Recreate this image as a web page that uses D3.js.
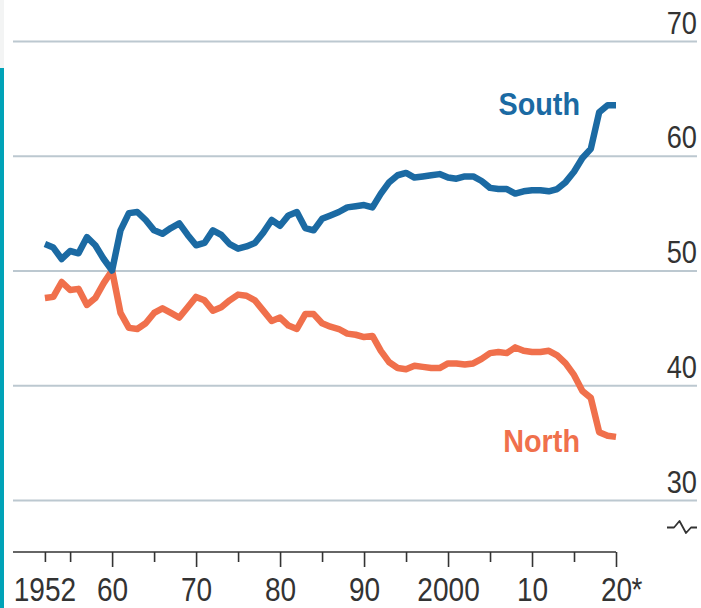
<!DOCTYPE html>
<html lang="en">
<head>
    <meta charset="UTF-8">
    <title>South vs North</title>
    <style>
        body {
            margin: 0;
            padding: 0;
            background-color: #ffffff;
            overflow: hidden;
        }
        .chart text {
            font-family: 'Liberation Sans', Arial, sans-serif;
            fill: #333333;
        }
        .grid line {
            stroke: #bcc8d0;
            stroke-width: 2px;
        }
        .series {
            fill: none;
            stroke-width: 6.5px;
            stroke-linejoin: round;
            stroke-linecap: butt;
        }
    </style>
</head>
<body>
    <div class="chart"></div>

    <script src="https://d3js.org/d3.v7.min.js"></script>
    <script>
        const width = 701;
        const height = 608;
        const squeeze = 0.85; // narrow the font to look condensed

        // data, 1952 to 2020
        const years = d3.range(1952, 2021);
        const south = [
            52.3, 52.0, 51.0, 51.7, 51.5, 52.9, 52.2, 51.0, 50.0,
            53.5, 55.0, 55.1, 54.4, 53.5, 53.2, 53.7, 54.1, 53.1, 52.2,
            52.4, 53.5, 53.1, 52.3, 51.9, 52.1, 52.4, 53.3, 54.4, 53.9,
            54.8, 55.1, 53.7, 53.5, 54.5, 54.8, 55.1, 55.5, 55.6, 55.7,
            55.5, 56.7, 57.7, 58.3, 58.5, 58.1, 58.2, 58.3, 58.4, 58.1,
            58.0, 58.2, 58.2, 57.8, 57.2, 57.1, 57.1, 56.7, 56.9, 57.0,
            57.0, 56.9, 57.1, 57.7, 58.6, 59.8, 60.6, 63.8, 64.4, 64.4
        ];
        const north = [
            47.6, 47.7, 49.0, 48.3, 48.4, 47.0, 47.6, 48.9, 50.0,
            46.3, 45.0, 44.9, 45.4, 46.3, 46.7, 46.3, 45.9, 46.8, 47.7,
            47.4, 46.5, 46.8, 47.4, 47.9, 47.8, 47.4, 46.5, 45.6, 45.9,
            45.2, 44.9, 46.2, 46.2, 45.4, 45.1, 44.9, 44.5, 44.4, 44.2,
            44.3, 43.0, 42.0, 41.5, 41.4, 41.7, 41.6, 41.5, 41.5, 41.9,
            41.9, 41.8, 41.9, 42.3, 42.8, 42.9, 42.8, 43.3, 43.0, 42.9,
            42.9, 43.0, 42.6, 41.9, 40.9, 39.5, 38.9, 35.9, 35.6, 35.5
        ];
        const yTicks = [30, 40, 50, 60, 70];
        const majorYears = [1960, 1970, 1980, 1990, 2000, 2010, 2020];
        const minorYears = [1952, 1955, 1965, 1975, 1985, 1995, 2005, 2015];
        const yearLabels = ['60', '70', '80', '90', '2000', '10', '20'];

        const svg = d3.select('.chart')
            .append('svg')
            .attr('width', width)
            .attr('height', height);

        // teal strip on the left edge
        svg.append('rect')
            .attr('x', 0).attr('y', 0)
            .attr('width', 4).attr('height', 68)
            .attr('fill', '#f3f4f4');
        svg.append('rect')
            .attr('x', 0).attr('y', 68)
            .attr('width', 4).attr('height', height - 68)
            .attr('fill', '#00a3b8');

        const x = d3.scaleLinear().domain([1948.2, 2020]).range([13, 616]);
        const y = d3.scaleLinear().domain([30, 70]).range([500, 41]);

        // horizontal grid with labels on the right
        const grid = svg.append('g')
            .attr('class', 'grid')
            .attr('transform', 'translate(697,0)')
            .call(d3.axisLeft(y).tickValues(yTicks).tickSize(684));
        grid.select('.domain').remove();
        grid.selectAll('text')
            .attr('x', 0)
            .attr('y', -8)
            .attr('dy', 0)
            .attr('text-anchor', 'end')
            .attr('transform', `scale(${squeeze},1)`)
            .style('font-size', '32px');

        // broken-axis mark under 30
        svg.append('path')
            .attr('d', 'M667,527.5 L674,527.5 L679.5,521 L686,533 L691,527.5 L697,527.5')
            .attr('fill', 'none')
            .attr('stroke', '#333')
            .attr('stroke-width', 1.8)
            .attr('stroke-linejoin', 'round');

        // x axis: minor ticks then major ticks with labels
        const axisY = 552;
        const labelY = 49;
        const minor = svg.append('g')
            .attr('transform', `translate(0,${axisY})`)
            .call(d3.axisBottom(x).tickValues(minorYears).tickSize(10).tickSizeOuter(0).tickFormat(''));
        minor.select('.domain').remove();

        const major = svg.append('g')
            .attr('transform', `translate(0,${axisY})`)
            .call(d3.axisBottom(x).tickValues(majorYears).tickSize(15).tickSizeOuter(0)
                .tickFormat((d, i) => yearLabels[i]));

        svg.selectAll('.tick line').attr('stroke', '#333').attr('stroke-width', 1.6);
        major.select('.domain').attr('stroke', '#333').attr('stroke-width', 1.6)
            .attr('d', `M${x.range()[0]},0H${x.range()[1]}`);
        major.selectAll('text')
            .attr('y', labelY)
            .attr('dy', 0)
            .attr('transform', `scale(${squeeze},1)`)
            .style('font-size', '33px');

        svg.append('text')
            .attr('transform', `translate(${x(1952)},${axisY + labelY}) scale(${squeeze},1)`)
            .attr('text-anchor', 'middle')
            .style('font-size', '33px')
            .text('1952');
        svg.append('text')
            .attr('transform', `translate(${x(2020) + 15.5},${axisY + labelY}) scale(${squeeze},1)`)
            .attr('text-anchor', 'start')
            .style('font-size', '33px')
            .text('*');

        // lines
        const line = values => d3.line()
            .x((d, i) => x(years[i]))
            .y(d => y(d))(values);

        svg.append('path')
            .attr('class', 'series')
            .attr('stroke', '#f0704c')
            .attr('d', line(north));

        svg.append('path')
            .attr('class', 'series')
            .attr('stroke', '#1b6aa3')
            .attr('d', line(south));

        svg.append('text')
            .attr('transform', `translate(580,115) scale(0.9,1)`)
            .attr('text-anchor', 'end')
            .style('font-size', '32px')
            .style('font-weight', 'bold')
            .style('fill', '#1b6aa3')
            .text('South');

        svg.append('text')
            .attr('transform', `translate(580,452) scale(0.9,1)`)
            .attr('text-anchor', 'end')
            .style('font-size', '32px')
            .style('font-weight', 'bold')
            .style('fill', '#f0704c')
            .text('North');
    </script>
</body>
</html>
